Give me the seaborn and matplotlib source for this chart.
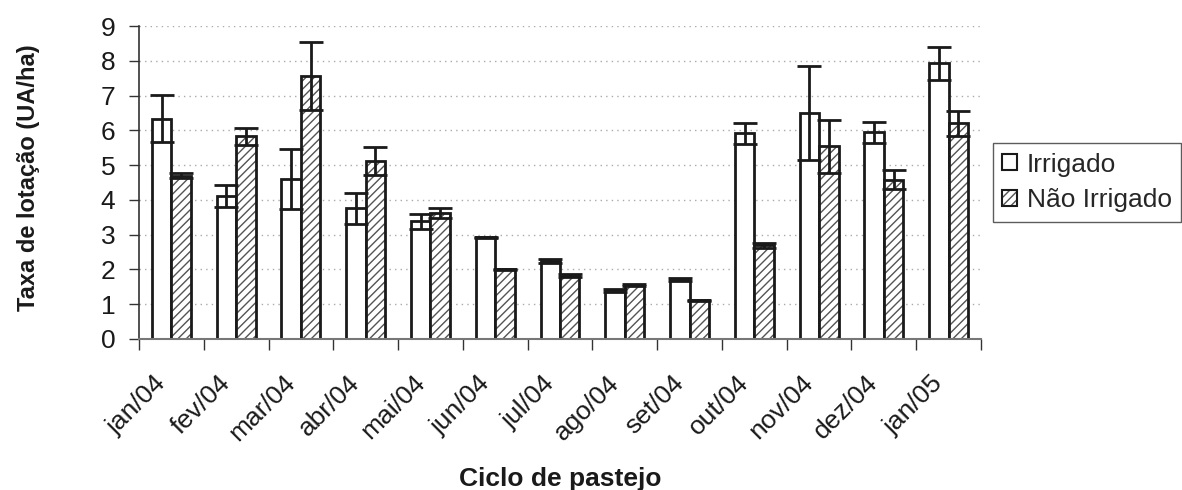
import matplotlib
matplotlib.use("Agg")
import matplotlib.pyplot as plt
import matplotlib.transforms as mtransforms
import seaborn as sns
import pandas as pd
import numpy as np
from matplotlib.patches import Patch

categories = ["jan/04", "fev/04", "mar/04", "abr/04", "mai/04", "jun/04", "jul/04",
              "ago/04", "set/04", "out/04", "nov/04", "dez/04", "jan/05"]
irrigado = [6.34, 4.11, 4.60, 3.76, 3.38, 2.92, 2.24, 1.40, 1.70, 5.91, 6.50, 5.94, 7.93]
irrigado_err = [0.67, 0.31, 0.85, 0.45, 0.22, 0.02, 0.05, 0.04, 0.04, 0.29, 1.34, 0.30, 0.48]
nao_irrigado = [4.70, 5.83, 7.56, 5.11, 3.63, 2.00, 1.82, 1.55, 1.11, 2.69, 5.54, 4.58, 6.20]
nao_irrigado_err = [0.07, 0.24, 0.97, 0.40, 0.15, 0.02, 0.04, 0.02, 0.01, 0.08, 0.77, 0.28, 0.37]
series = ["Irrigado", "Não Irrigado"]

df = pd.DataFrame({
    "ciclo": categories * 2,
    "valor": irrigado + nao_irrigado,
    "tratamento": [series[0]] * len(categories) + [series[1]] * len(categories),
})

sns.set_style("white")
plt.rcParams["font.family"] = ["Liberation Sans", "DejaVu Sans"]
plt.rcParams["hatch.linewidth"] = 1.0

fig = plt.figure(figsize=(11.82, 4.90), dpi=100)
ax = fig.add_axes([139 / 1182, 1 - 339 / 490, (981 - 139) / 1182, (339 - 26) / 490])

sns.barplot(data=df, x="ciclo", y="valor", hue="tratamento", order=categories,
            hue_order=series, palette=["white", "white"], width=0.6, gap=0,
            edgecolor="#1a1a1a", linewidth=2, errorbar=None, ax=ax, legend=False)

hatch_col = (0.33, 0.33, 0.33, 1.0)
errs = [irrigado_err, nao_irrigado_err]
bar_containers = list(ax.containers)
for k, cont in enumerate(bar_containers):
    patches = list(cont)
    xs = [p.get_x() + p.get_width() / 2 for p in patches]
    hs = [p.get_height() for p in patches]
    if k == 1:
        for p in patches:
            p.set_hatch("////")
            p._hatch_color = hatch_col
    ax.errorbar(xs, hs, yerr=errs[k], fmt="none", ecolor="#1a1a1a",
                elinewidth=2, capsize=8.5, capthick=2, zorder=5)

ax.set_ylim(0, 9)
ax.set_xlim(-0.5, len(categories) - 0.5)
ax.set_yticks(range(0, 10))
ax.tick_params(axis="y", labelsize=19, length=7, width=1, color="#333333",
               direction="out", left=True, pad=10, labelcolor="#1a1a1a")
ax.yaxis.grid(True, linestyle=(0, (1, 3)), color="#aaaaaa", linewidth=1)
ax.set_axisbelow(True)

# Excel-style ticks between categories, labels at centres
ax.set_xticks(np.arange(-0.5, len(categories), 1.0))
ax.set_xticklabels([])
ax.set_xticks(range(len(categories)), minor=True)
ax.set_xticklabels(categories, minor=True, rotation=45, ha="right",
                   rotation_mode="anchor", fontsize=19, color="#1a1a1a")
ax.tick_params(axis="x", which="major", length=8, width=1, color="#333333",
               direction="out", bottom=True)
ax.tick_params(axis="x", which="minor", length=0, pad=23)
shift = mtransforms.ScaledTranslation(-13 / 72, 0, fig.dpi_scale_trans)
for lbl in ax.get_xticklabels(minor=True):
    lbl.set_transform(lbl.get_transform() + shift)

for s in ["top", "right"]:
    ax.spines[s].set_visible(False)
ax.spines["left"].set_color("#333333")
ax.spines["bottom"].set_color("#777777")
ax.spines["left"].set_linewidth(1.2)
ax.spines["bottom"].set_linewidth(1.5)

ax.set_xlabel("Ciclo de pastejo", fontsize=19, fontweight="bold", color="#1a1a1a")
ax.xaxis.set_label_coords((560 - 139) / 842, (339 - 491) / 313)
ax.xaxis.label.set_va("bottom")
ax.set_ylabel("Taxa de lotação (UA/ha)", fontsize=17, fontweight="bold",
              color="#1a1a1a")
ax.yaxis.set_label_coords((40 - 139) / 842, 0.5 + 5 / 313)

handles = [Patch(facecolor="white", edgecolor="#1a1a1a", linewidth=1.5),
           Patch(facecolor="white", edgecolor="#1a1a1a", linewidth=1.5, hatch="////")]
leg = fig.legend(handles, series, loc="center left",
                 bbox_to_anchor=(993 / 1182, 1 - 182.5 / 490),
                 fontsize=19, frameon=True, fancybox=False, edgecolor="#333333",
                 handlelength=0.57, handleheight=0.57, handletextpad=0.35,
                 borderpad=0.35, borderaxespad=0, labelspacing=0.45)
leg.get_frame().set_linewidth(1)
leg.legend_handles[1]._hatch_color = hatch_col

fig.savefig("out.png", dpi=100)
